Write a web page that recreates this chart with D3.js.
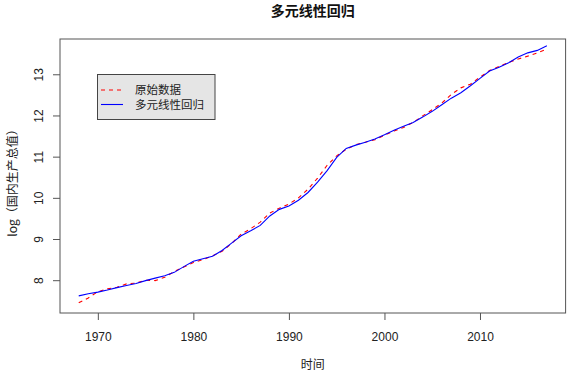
<!DOCTYPE html>
<html>
<head>
<meta charset="utf-8">
<script src="https://cdn.jsdelivr.net/npm/d3@7"></script>
<style>
  body { margin: 0; background: #fff; }
  text { font-family: "Liberation Sans", Arial, "Noto Sans CJK SC", sans-serif; }
  .cjk { font-family: "Noto Sans CJK SC", sans-serif; }
</style>
</head>
<body>
<div id="chart"></div>
<script>
// data
var years = d3.range(1968, 2018);

var actual = [7.45, 7.57, 7.72, 7.79, 7.83, 7.91, 7.93, 8.00, 7.99, 8.07,
              8.21, 8.32, 8.43, 8.50, 8.59, 8.70, 8.89, 9.12, 9.25, 9.41,
              9.63, 9.75, 9.85, 10.00, 10.21, 10.48, 10.79, 11.02, 11.18, 11.29,
              11.35, 11.41, 11.52, 11.62, 11.71, 11.83, 11.99, 12.14, 12.30, 12.51,
              12.67, 12.76, 12.93, 13.09, 13.19, 13.29, 13.37, 13.44, 13.52, 13.61];

var fitted = [7.62, 7.67, 7.71, 7.76, 7.82, 7.87, 7.92, 7.99, 8.05, 8.11,
              8.19, 8.33, 8.46, 8.52, 8.58, 8.72, 8.90, 9.08, 9.20, 9.33,
              9.56, 9.72, 9.80, 9.94, 10.13, 10.38, 10.66, 10.98, 11.20, 11.28,
              11.35, 11.43, 11.53, 11.64, 11.74, 11.83, 11.96, 12.10, 12.26, 12.42,
              12.55, 12.72, 12.90, 13.08, 13.17, 13.28, 13.42, 13.52, 13.58, 13.69];

var xTicks = [1970, 1980, 1990, 2000, 2010];
var yTicks = [8, 9, 10, 11, 12, 13];

var seriesNames = ['原始数据', '多元线性回归'];
var title = '多元线性回归';
var xLabel = '时间';
var yLabel = 'log（国内生产总值）';

var W = 567, H = 372;
var box = { left: 60, right: 565.6, top: 39, bottom: 313 };

var svg = d3.select('#chart').append('svg')
    .attr('width', W)
    .attr('height', H);

// R style 4% padding
function pad(ext) {
    var d = (ext[1] - ext[0]) * 0.04;
    return [ext[0] - d, ext[1] + d];
}

var x = d3.scaleLinear()
    .domain(pad(d3.extent(years)))
    .range([box.left, box.right]);

var y = d3.scaleLinear()
    .domain(pad(d3.extent(actual)))
    .range([box.bottom, box.top]);

var line = d3.line()
    .x((d, i) => x(years[i]))
    .y(d => y(d));

svg.append('path')
    .datum(actual)
    .attr('d', line)
    .attr('fill', 'none')
    .attr('stroke', '#ff0000')
    .attr('stroke-width', 1.1)
    .attr('stroke-dasharray', '4,4');

svg.append('path')
    .datum(fitted)
    .attr('d', line)
    .attr('fill', 'none')
    .attr('stroke', '#0000ff')
    .attr('stroke-width', 1.1);

// axes
var xAxis = d3.axisBottom(x)
    .tickValues(xTicks)
    .tickFormat(d3.format('d'))
    .tickSize(7)
    .tickPadding(12);

var gx = svg.append('g')
    .attr('transform', 'translate(0,' + box.bottom + ')')
    .call(xAxis);
gx.select('.domain').remove();
gx.selectAll('line').attr('stroke', '#555');
gx.selectAll('text').attr('font-size', 12).attr('fill', '#222')
    .style('font-family', '"Liberation Sans", Arial, sans-serif');

var yAxis = d3.axisLeft(y)
    .tickValues(yTicks)
    .tickFormat(d3.format('d'))
    .tickSize(7);

var gy = svg.append('g')
    .attr('transform', 'translate(' + box.left + ',0)')
    .call(yAxis);
gy.select('.domain').remove();
gy.selectAll('line').attr('stroke', '#555');
gy.selectAll('text')
    .attr('font-size', 12)
    .attr('fill', '#222')
    .style('font-family', '"Liberation Sans", Arial, sans-serif')
    .attr('x', 0)
    .attr('y', -17.5)
    .attr('dy', 0)
    .attr('text-anchor', 'middle')
    .attr('transform', 'rotate(-90)');

// box
svg.append('rect')
    .attr('x', box.left)
    .attr('y', box.top)
    .attr('width', box.right - box.left)
    .attr('height', box.bottom - box.top)
    .attr('fill', 'none')
    .attr('stroke', '#555')
    .attr('stroke-width', 1);

// titles
var midX = (box.left + box.right) / 2;

svg.append('text')
    .attr('class', 'cjk')
    .attr('x', midX)
    .attr('y', 16)
    .attr('text-anchor', 'middle')
    .attr('font-size', 14)
    .attr('font-weight', 'bold')
    .attr('fill', '#111')
    .text(title);

svg.append('text')
    .attr('class', 'cjk')
    .attr('x', midX)
    .attr('y', 369)
    .attr('text-anchor', 'middle')
    .attr('font-size', 12)
    .attr('fill', '#222')
    .text(xLabel);

svg.append('text')
    .attr('class', 'cjk')
    .attr('transform', 'translate(17,' + ((box.top + box.bottom) / 2 + 4) + ') rotate(-90)')
    .attr('text-anchor', 'middle')
    .attr('font-size', 12)
    .attr('fill', '#222')
    .text(yLabel);

// legend
var legend = svg.append('g');
legend.append('rect')
    .attr('x', 97.5)
    .attr('y', 74.5)
    .attr('width', 117.5)
    .attr('height', 45)
    .attr('fill', '#e5e5e5')
    .attr('stroke', '#444');

var legendStyles = [
    { color: '#ff0000', dash: '4,4' },
    { color: '#0000ff', dash: null }
];

seriesNames.forEach((name, i) => {
    var ly = 90 + i * 14.5;
    legend.append('line')
        .attr('x1', 101)
        .attr('x2', 123)
        .attr('y1', ly)
        .attr('y2', ly)
        .attr('stroke', legendStyles[i].color)
        .attr('stroke-width', 1.1)
        .attr('stroke-dasharray', legendStyles[i].dash);
    legend.append('text')
        .attr('class', 'cjk')
        .attr('x', 135)
        .attr('y', ly + 4)
        .attr('font-size', 11.5)
        .attr('fill', '#222')
        .text(name);
});
</script>
</body>
</html>
